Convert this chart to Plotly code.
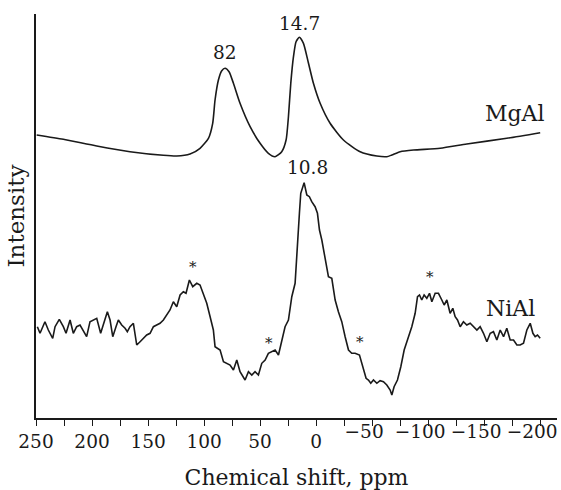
import plotly.graph_objects as go

# Chemical shift axis (ppm) and intensity readings for the two spectra
mgal_shift = [249.4, 225.6, 195.8, 166.1, 136.3, 124.4, 112.5, 103.6, 96.1, 92.3, 90.2,
              87.2, 84.2, 81.25, 77.7, 73.8, 67.9, 58.9, 50.0, 42.6, 36.6, 30.7, 26.8,
              24.7, 22.6, 20.2, 17.9, 14.9, 11.3, 6.8, 2.4, -3.6, -12.5, -24.4, -39.3,
              -54.2, -63.1, -67.6, -75.0, -86.9, -110.7, -134.5, -170.2, -200.0]
mgal_int = [283, 278.7, 272, 266.3, 262.7, 262, 264, 269.7, 279.7, 294.7, 318,
            338, 347.3, 349.7, 346.3, 334.7, 314.7, 291.3, 274.7, 264.7, 261.3, 266.3, 278,
            301.3, 334.7, 361.3, 376.3, 380.7, 374.7, 354.7, 334.7, 314.7, 294.7, 278, 266.3,
            262, 261.3, 263, 266.3, 268, 269.7, 274, 279.7, 285.3]

nial_shift = [248.8, 246.4, 242.0, 239.0, 235.1, 233.0, 229.2, 225.6, 223.2, 219.6, 216.7,
              213.7, 210.7, 207.7, 204.8, 201.8, 198.8, 195.8, 192.3, 189.3, 186.3, 183.9,
              181.5, 178.6, 176.5, 173.5, 170.5, 168.5, 166.1, 163.1, 160.1, 157.1, 154.2,
              151.2, 148.2, 145.2, 142.3, 139.3, 136.3, 133.3, 130.4, 127.4, 124.4, 121.4,
              118.5, 116.1, 113.1, 110.1, 106.5, 103.6, 100.6, 97.6, 94.6, 91.7, 90.2, 85.7,
              82.7, 79.8, 76.8, 73.8, 70.8, 67.9, 63.4, 60.4, 57.4, 54.5, 51.5, 48.5, 45.5,
              42.6, 39.6, 36.6, 33.6, 30.7, 27.7, 24.7, 21.7, 18.75, 17.3, 14.9, 13.7, 10.7,
              8.3, 6.0, 3.9, 0.9, -1.2, -3.0, -5.1, -8.0, -11.0, -14.0, -17.0, -19.9, -22.9,
              -25.9, -28.9, -31.8, -34.8, -38.7, -40.8, -42.9, -44.6, -46.7, -48.8, -51.2,
              -54.2, -57.1, -60.1, -63.1, -66.1, -67.6, -69.6, -72.6, -75.6, -78.6, -82.4,
              -85.4, -88.4, -90.5, -92.3, -94.3, -96.4, -98.8, -101.2, -103.3, -106.25,
              -109.2, -112.2, -114.3, -116.7, -119.6, -122.0, -124.1, -126.2, -128.6, -131.5,
              -134.5, -137.5, -140.5, -143.5, -146.4, -149.4, -152.4, -155.4, -158.3, -161.3,
              -164.3, -167.3, -170.2, -173.2, -176.2, -179.2, -182.1, -185.1, -188.1, -191.1,
              -193.5, -195.5, -197.6, -200.0]
nial_int = [91.3, 84.7, 96.3, 88, 79.7, 91.3, 98.7, 91.3, 84.7, 98, 84.7,
            91.3, 93, 86.3, 81.3, 96.3, 98, 99.7, 84.7, 96.3, 106.3, 98,
            81.3, 91.3, 98, 93, 89.7, 86.3, 91.3, 94.7, 73, 76.3, 79.7,
            83, 84.7, 91.3, 93, 94.7, 98, 103, 108, 116.3, 111.3, 123,
            126.3, 124.7, 138, 131.3, 134.7, 133, 124.7, 114.7, 101.3, 88, 71.3, 68,
            56.3, 54.7, 53, 48, 58, 46.3, 38, 46.3, 43, 46.3, 43, 54.7, 58,
            64.7, 66.3, 68, 63, 78, 91.3, 98, 121.3, 134.7, 164.7, 204.7, 224.7, 235.3,
            223, 221.3, 216.3, 211.3, 204.7, 188, 178, 161.3, 141.3, 139.7, 118, 106.3, 96.3,
            81.3, 68, 64.7, 64.7, 63, 54.7, 46.3, 39.7, 38, 34.7, 38,
            34.7, 37.3, 36.3, 33, 28, 23, 31.3, 38, 51.3, 68, 81.3,
            91.3, 104.7, 121.3, 123, 118, 123, 119.7, 124.7, 116.3, 124.7,
            124.7, 118, 113, 118, 104.7, 109.7, 101.3, 98, 91.3, 96.3,
            93, 94.7, 91.3, 88, 91.3, 84.7, 76.3, 84.7, 86.3, 78,
            88, 81.3, 89.7, 78, 78, 73, 73, 74.7, 88, 94.7,
            84.7, 81.3, 83, 79.7]

# Peak positions and series names
peak_labels = ["82", "14.7", "10.8"]
peak_x = [81.25, 15.2, 8.0]
peak_y = [366, 395, 251]
series_names = ["MgAl", "NiAl"]
name_x = [-177.7, -173.2]
name_y = [305, 110]
# Spinning sidebands
sideband_x = [109.6, 41.7, -39.3, -101.2]
sideband_y = [150.7, 75.3, 76.3, 140.7]

# Major ticks; negative labels go on an overlay axis so their digits sit on the tick
pos_ticks = [250, 200, 150, 100, 50, 0]
neg_ticks = [-50, -100, -150, -200]
x_range = [250, -215]

FONT = "DejaVu Serif"
INK = "#1a1a1a"
NUM_SIZE = 18.5
WORD_SIZE = 22

fig = go.Figure()
fig.add_trace(go.Scatter(x=mgal_shift, y=mgal_int, mode="lines", name="MgAl",
                         line=dict(color=INK, width=1.6, shape="spline", smoothing=0.6)))
fig.add_trace(go.Scatter(x=nial_shift, y=nial_int, mode="lines", name="NiAl",
                         xaxis="x2",
                         line=dict(color=INK, width=1.6)))

for t, x, y in zip(peak_labels, peak_x, peak_y):
    fig.add_annotation(x=x, y=y, text=t, showarrow=False,
                       font=dict(family=FONT, size=NUM_SIZE, color=INK))
for t, x, y in zip(series_names, name_x, name_y):
    fig.add_annotation(x=x, y=y, text=t, showarrow=False,
                       font=dict(family=FONT, size=WORD_SIZE, color=INK))
for x, y in zip(sideband_x, sideband_y):
    fig.add_annotation(x=x, y=y, text="*", showarrow=False,
                       font=dict(family=FONT, size=15, color=INK))

all_ticks = pos_ticks + neg_ticks
fig.update_layout(
    width=561, height=490,
    margin=dict(l=36, r=4, t=14, b=72),
    paper_bgcolor="white", plot_bgcolor="white",
    showlegend=False,
    font=dict(family=FONT, size=NUM_SIZE, color=INK),
    xaxis=dict(
        range=x_range, automargin=False,
        tickvals=all_ticks,
        ticktext=[str(v) for v in pos_ticks] + [""] * len(neg_ticks),
        ticks="outside", ticklen=6, tickwidth=1.3, tickcolor=INK,
        minor=dict(dtick=25, tick0=0, ticks="outside", ticklen=6, tickwidth=1.3, tickcolor=INK),
        showline=True, linecolor=INK, linewidth=1.5,
        showgrid=False, zeroline=False,
        tickfont=dict(family=FONT, size=NUM_SIZE, color=INK),
        title=dict(text="Chemical shift, ppm", standoff=20,
                   font=dict(family=FONT, size=WORD_SIZE, color=INK)),
    ),
    xaxis2=dict(
        range=x_range, overlaying="x", anchor="y", side="bottom", automargin=False,
        tickvals=neg_ticks, ticks="", showline=False,
        showgrid=False, zeroline=False,
        ticklabelshift=8, ticklabeloverflow="allow",
        tickfont=dict(family=FONT, size=NUM_SIZE, color=INK),
    ),
    yaxis=dict(
        range=[0, 404], showticklabels=False, ticks="", automargin=False,
        showline=True, linecolor=INK, linewidth=1.5,
        showgrid=False, zeroline=False,
        title=dict(text="Intensity", standoff=3,
                   font=dict(family=FONT, size=23, color=INK)),
    ),
)

fig.write_html("out.html")
